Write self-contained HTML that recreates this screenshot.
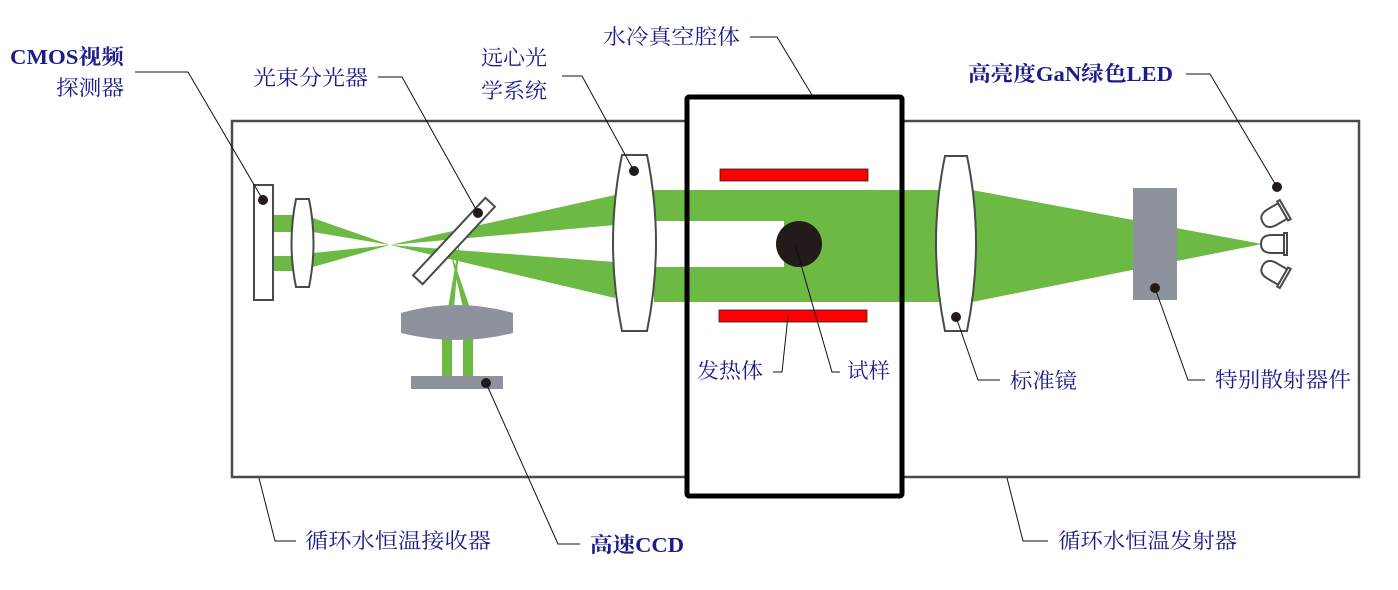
<!DOCTYPE html>
<html><head><meta charset="utf-8"><style>
html,body{margin:0;padding:0;background:#fff;}
svg{display:block;}
text{font-family:"Liberation Serif","Noto Serif CJK SC",serif;font-size:21px;fill:#1c1c8a;}
.b{font-weight:bold;}
</style></head><body>
<svg width="1398" height="590" viewBox="0 0 1398 590" xmlns="http://www.w3.org/2000/svg">
<rect x="232" y="121" width="1127" height="356" fill="none" stroke="#4a4a4a" stroke-width="2.5"/>
<rect x="687" y="97" width="215" height="399" fill="#fff"/>
<g fill="#6cb944">
 <rect x="273" y="215" width="22" height="17"/>
 <rect x="273" y="256" width="22" height="15"/>
 <polygon points="313,218 313,232 390,245"/>
 <polygon points="313,253 313,267 390,245"/>
 <polygon points="390,245 615,195 615,225"/>
 <polygon points="390,245 615,262 615,298"/>
 <rect x="654" y="190" width="130" height="31"/>
 <rect x="654" y="267" width="130" height="35"/>
 <rect x="784" y="190" width="155" height="112"/>
 <polygon points="972,190 1262,244 972,302"/>
 <polygon points="460,238 448,308 454,308"/>
 <polygon points="450,250 463,308 470,308"/>
 <rect x="442" y="337" width="10" height="40"/>
 <rect x="463" y="337" width="10" height="40"/>
</g>
<rect x="720" y="169" width="148" height="12" fill="#f00" stroke="#222" stroke-width="0.8"/>
<rect x="719" y="310" width="148" height="12" fill="#f00" stroke="#222" stroke-width="0.8"/>
<circle cx="799" cy="244" r="23" fill="#231a1a"/>
<rect x="687" y="97" width="215" height="399" rx="2" fill="none" stroke="#000" stroke-width="5"/>
<rect x="254" y="185" width="19" height="115" fill="#fff" stroke="#4a4a4a" stroke-width="2"/>
<path d="M296,199 L309,199 Q318,243 309,287 L296,287 Q287,243 296,199Z" fill="#fff" stroke="#4a4a4a" stroke-width="2"/>
<g transform="translate(454,241) rotate(-47)">
 <rect x="-53" y="-6.5" width="106" height="13" fill="#fff" stroke="#4a4a4a" stroke-width="2"/>
</g>
<path d="M401,313 Q457,297 513,313 L513,333 Q457,347 401,333Z" fill="#8e929c"/>
<rect x="411" y="376" width="92" height="13" fill="#8e929c"/>
<path d="M622,155 L647,155 Q665,243 647,331 L622,331 Q604,243 622,155Z" fill="#fff" stroke="#4a4a4a" stroke-width="2"/>
<path d="M945,156 L967,156 Q985,243 967,331 L945,331 Q927,243 945,156Z" fill="#fff" stroke="#4a4a4a" stroke-width="2"/>
<rect x="1133" y="188" width="44" height="112" fill="#8e929c"/>
<g fill="#fff" stroke="#4a4a4a" stroke-width="2">
 <g transform="translate(1274,216) rotate(-30)"><path d="M10,-9 L-2,-9 Q-13,-9 -13,0 Q-13,9 -2,9 L10,9Z"/><rect x="10" y="-11" width="3" height="22"/></g>
 <g transform="translate(1274,244)"><path d="M10,-9 L-2,-9 Q-13,-9 -13,0 Q-13,9 -2,9 L10,9Z"/><rect x="10" y="-11" width="3" height="22"/></g>
 <g transform="translate(1274,272) rotate(30)"><path d="M10,-9 L-2,-9 Q-13,-9 -13,0 Q-13,9 -2,9 L10,9Z"/><rect x="10" y="-11" width="3" height="22"/></g>
</g>
<g fill="#231a1a">
 <circle cx="263" cy="200" r="5"/>
 <circle cx="478" cy="213" r="5"/>
 <circle cx="634" cy="171" r="5"/>
 <circle cx="956" cy="317" r="5"/>
 <circle cx="1155" cy="288" r="5"/>
 <circle cx="1277" cy="187" r="5"/>
 <circle cx="486" cy="383" r="5"/>
</g>
<g fill="none" stroke="#111" stroke-width="1">
 <polyline points="135,72 188,72 263,200"/>
 <polyline points="378,77 402,77 478,213"/>
 <polyline points="562,76 582,76 634,171"/>
 <polyline points="750,37 777,37 812,95"/>
 <polyline points="1186,74 1210,74 1277,187"/>
 <polyline points="773,372 782,372 788,316"/>
 <polyline points="840,372 832,372 795,244"/>
 <polyline points="1000,380 978,380 956,317"/>
 <polyline points="1205,380 1188,380 1155,288"/>
 <polyline points="296,541 275,541 259,478"/>
 <polyline points="580,544 558,544 486,383"/>
 <polyline points="1048,541 1023,541 1007,478"/>
</g>
<text x="10" y="64" class="b" textLength="114" lengthAdjust="spacingAndGlyphs">CMOS视频</text>
<text x="56" y="95" textLength="68" lengthAdjust="spacingAndGlyphs">探测器</text>
<text x="253" y="85" textLength="115" lengthAdjust="spacingAndGlyphs">光束分光器</text>
<text x="481" y="65" textLength="66" lengthAdjust="spacingAndGlyphs">远心光</text>
<text x="481" y="98" textLength="66" lengthAdjust="spacingAndGlyphs">学系统</text>
<text x="603" y="44" textLength="137" lengthAdjust="spacingAndGlyphs">水冷真空腔体</text>
<text x="968" y="81" class="b" textLength="205" lengthAdjust="spacingAndGlyphs">高亮度GaN绿色LED</text>
<text x="697" y="378" textLength="66" lengthAdjust="spacingAndGlyphs">发热体</text>
<text x="847" y="378" textLength="43" lengthAdjust="spacingAndGlyphs">试样</text>
<text x="1010" y="388" textLength="67" lengthAdjust="spacingAndGlyphs">标准镜</text>
<text x="1215" y="387" textLength="136" lengthAdjust="spacingAndGlyphs">特别散射器件</text>
<text x="305" y="548" textLength="186" lengthAdjust="spacingAndGlyphs">循环水恒温接收器</text>
<text x="590" y="552" class="b" textLength="94" lengthAdjust="spacingAndGlyphs">高速CCD</text>
<text x="1058" y="548" textLength="179" lengthAdjust="spacingAndGlyphs">循环水恒温发射器</text>
</svg>
</body></html>
